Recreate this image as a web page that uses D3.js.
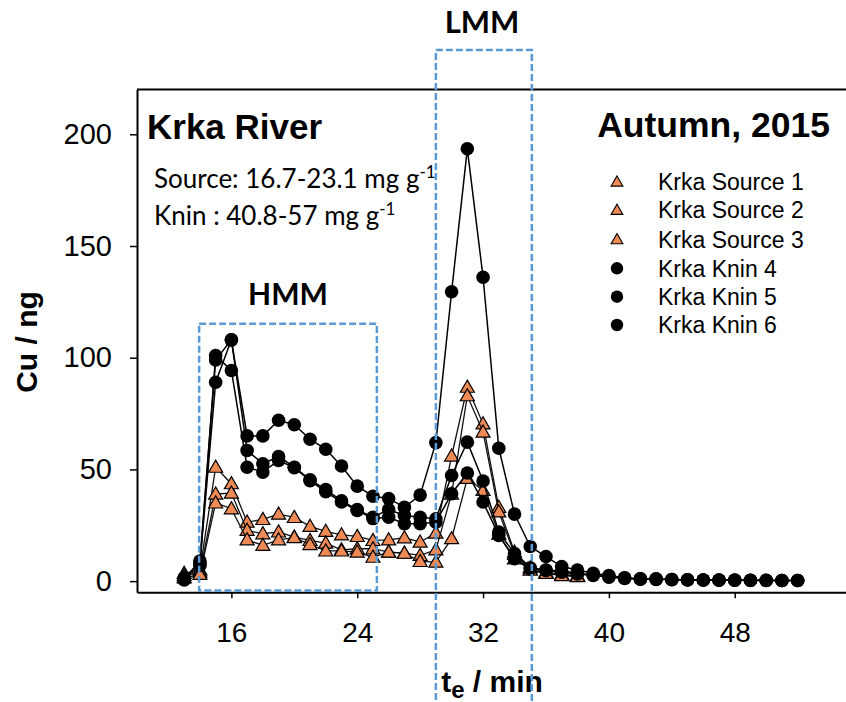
<!DOCTYPE html>
<html><head><meta charset="utf-8">
<script src="https://cdn.jsdelivr.net/npm/d3@7/dist/d3.min.js"></script>
<style>body{margin:0;background:#fff}svg{display:block}</style>
</head><body>
<svg id="c" width="846" height="702"></svg>
<script>
// ---- data ----
const timeKnin = d3.range(13, 53);          // 13..52 min
const timeSource = d3.range(13, 39);        // 13..38 min
const source1 = [3.5,5,51,43.6,26.4,27.6,30,28.5,24.5,22.3,20.7,20,18.2,18.5,19.4,17.5,21.5,56,86.8,70.4,33,13,6,4,3,2.5];
const source2 = [2.5,4,39,39.4,22.7,21.2,22,19.7,18.2,17,14,14.5,14.5,13,12.5,11.5,14,39,83,66.7,31,12,5,3.5,2.8,2.2];
const source3 = [1.5,3,35,32.4,18.5,16,18.5,19.5,16.4,13.5,13.5,13,10.7,13,12.5,8.8,8.5,19,46,40.6,21,10,5,3.5,2.5,2];
const knin4 = [1,9,99,108,65,65,72,70,63.5,59,51.5,42.5,38,37,33,38.5,62,129.5,193.5,136,59.5,30,15.5,11,6.5,5,3.5,2.5,1.5,1,1,0.7,0.6,0.5,0.5,0.5,0.4,0.4,0.3,0.3];
const knin5 = [1.5,8,89,108,58.5,52.5,55.8,51,45.4,41,36,32,28.6,32,29.4,28.6,27.9,47.3,62.2,44.8,22,12.3,6,5,4.5,3.5,2.8,2,1.4,1,0.9,0.7,0.6,0.5,0.5,0.4,0.4,0.3,0.3,0.3];
const knin6 = [0.5,7,101,94.3,51,48.8,54,50.8,45,40,35.4,31.6,28,28.6,25.7,25.7,26.4,39.1,48.4,35.4,20.5,10,5.5,4.8,4,3.2,2.5,1.8,1.2,0.9,0.8,0.6,0.5,0.5,0.4,0.4,0.3,0.3,0.3,0.3];
const seriesNames = ["Krka Source 1","Krka Source 2","Krka Source 3","Krka Knin 4","Krka Knin 5","Krka Knin 6"];
const xTicks = [16,24,32,40,48];
const yTicks = [0,50,100,150,200];
const hmmBox = {t0:13.95, t1:25.25, v0:-4.2, v1:115.2};
const lmmBox = {t0:29.0, t1:35.1};

// ---- layout ----
const svg = d3.select("#c");
const x = d3.scaleLinear().domain([10,56]).range([137, 137+46*15.73]);
const y = d3.scaleLinear().domain([-5,220]).range([592.3, 89.6]);
const orange = "#EE8A55";

// frame top line
svg.append("line").attr("x1",137).attr("x2",846).attr("y1",y(220)).attr("y2",y(220))
  .attr("stroke","#000").attr("stroke-width",2);

const xa = svg.append("g").attr("transform",`translate(0,${y(-5)})`)
  .call(d3.axisBottom(x).tickValues(xTicks).tickSize(6).tickSizeOuter(0).tickPadding(24));
xa.select(".domain").attr("stroke-width",2);
xa.selectAll(".tick line").attr("stroke-width",1.5);
xa.selectAll("text").attr("font-family","Liberation Sans, Arial").attr("font-size",28).attr("fill","#000");

const ya = svg.append("g").attr("transform",`translate(${x(10)},0)`)
  .call(d3.axisLeft(y).tickValues(yTicks).tickSize(7).tickSizeOuter(0).tickPadding(18));
ya.select(".domain").attr("stroke-width",2);
ya.selectAll(".tick line").attr("stroke-width",1.5);
ya.selectAll("text").attr("font-family","Liberation Sans, Arial").attr("font-size",29).attr("fill","#000");

// axis titles
svg.append("text").attr("transform","translate(37,342) rotate(-90)").attr("text-anchor","middle")
  .attr("font-family","Liberation Sans, Arial").attr("font-weight","bold").attr("font-size",30).text("Cu / ng");
const xt = svg.append("text").attr("x",492).attr("y",692).attr("text-anchor","middle")
  .attr("font-family","Liberation Sans, Arial").attr("font-weight","bold").attr("font-size",30);
xt.append("tspan").text("t");
xt.append("tspan").attr("dy",6).attr("font-size",24).text("e");
xt.append("tspan").attr("dy",-6).text(" / min");

// series
const line = d3.line().x(d=>x(d[0])).y(d=>y(d[1]));
const tri = d3.symbol().type(d3.symbolTriangle).size(85);
const sources = [source1,source2,source3];
const knins = [knin4,knin5,knin6];
sources.forEach(vals=>{
  const pts = timeSource.map((t,i)=>[t,vals[i]]);
  const g = svg.append("g");
  g.append("path").datum(pts).attr("d",line).attr("fill","none").attr("stroke","#111").attr("stroke-width",1.3);
  g.selectAll("path.m").data(pts).join("path").attr("class","m").attr("d",tri)
    .attr("transform",d=>`translate(${x(d[0])},${y(d[1])+1})`)
    .attr("fill",orange).attr("stroke","#000").attr("stroke-width",1.2);
});
knins.forEach(vals=>{
  const pts = timeKnin.map((t,i)=>[t,vals[i]]);
  const g = svg.append("g");
  g.append("path").datum(pts).attr("d",line).attr("fill","none").attr("stroke","#000").attr("stroke-width",1.5);
  g.selectAll("circle").data(pts).join("circle").attr("cx",d=>x(d[0])).attr("cy",d=>y(d[1])).attr("r",6.8)
    .attr("fill","#000");
});

// dashed boxes
svg.append("rect").attr("x",x(hmmBox.t0)).attr("y",y(hmmBox.v1))
  .attr("width",x(hmmBox.t1)-x(hmmBox.t0)).attr("height",y(hmmBox.v0)-y(hmmBox.v1))
  .attr("fill","none").attr("stroke","#5B9BD5").attr("stroke-width",2.5).attr("stroke-dasharray","7,3");
svg.append("path").attr("d",`M${x(lmmBox.t0)},710V50H${x(lmmBox.t1)}V710`)
  .attr("fill","none").attr("stroke","#5B9BD5").attr("stroke-width",2.5).attr("stroke-dasharray","7,3");

// labels
svg.append("text").attr("x",288).attr("y",305).attr("text-anchor","middle").attr("font-family","Lato").attr("font-weight","bold").attr("font-size",30).text("HMM");
svg.append("text").attr("x",482).attr("y",33).attr("text-anchor","middle").attr("font-family","Lato").attr("font-weight","bold").attr("font-size",31).text("LMM");
svg.append("text").attr("x",147).attr("y",139).attr("font-family","Liberation Sans, Arial").attr("font-weight","bold").attr("font-size",35).text("Krka River");
svg.append("text").attr("x",830).attr("y",137).attr("text-anchor","end").attr("font-family","Liberation Sans, Arial").attr("font-weight","bold").attr("font-size",35.5).text("Autumn, 2015");

const t1 = svg.append("text").attr("x",154).attr("y",188).attr("font-family","Lato").attr("font-size",26);
t1.append("tspan").text("Source: 16.7-23.1 mg g");
t1.append("tspan").attr("dy",-10).attr("font-size",17).text("-1");
const t2 = svg.append("text").attr("x",154).attr("y",225).attr("font-family","Lato").attr("font-size",26);
t2.append("tspan").text("Knin : 40.8-57 mg g");
t2.append("tspan").attr("dy",-10).attr("font-size",17).text("-1");

// legend
const legY = [181.7,210,239.3,268.3,296.7,325];
seriesNames.forEach((n,i)=>{
  if(i<3){
    svg.append("path").attr("d",d3.symbol().type(d3.symbolTriangle).size(60)).attr("transform",`translate(617,${legY[i]+1})`)
      .attr("fill",orange).attr("stroke","#000").attr("stroke-width",1.1);
  } else {
    svg.append("circle").attr("cx",617).attr("cy",legY[i]).attr("r",6.2).attr("fill","#000");
  }
  svg.append("text").attr("x",658).attr("y",legY[i]).attr("dy","0.36em").attr("font-family","Liberation Sans, Arial")
    .attr("font-size",23).text(n);
});
</script>
</body></html>
